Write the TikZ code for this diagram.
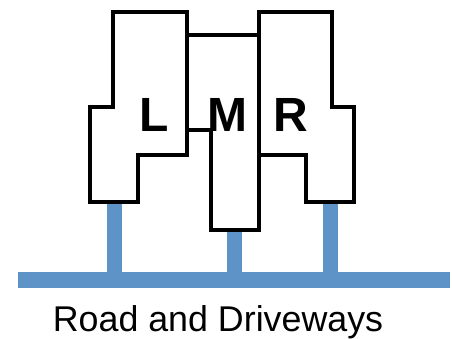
\documentclass[tikz,border=0pt]{standalone}
\usepackage{fontspec}
\setmainfont{Liberation Sans}
\definecolor{roadblue}{RGB}{94,147,200}
\begin{document}
\begin{tikzpicture}[x=1pt,y=-1pt,
  lot/.style={draw=black,line width=4pt,fill=white,line join=miter},
  drive/.style={draw=roadblue,line width=15pt},
  roadline/.style={draw=roadblue,line width=16pt},
  letter/.style={font=\fontsize{48}{48}\selectfont\bfseries,inner sep=0pt}]
\useasboundingbox (0,0) rectangle (452,339);
% coordinates
\coordinate (Lb) at (114.5,202);
\coordinate (Mb) at (234.5,230);
\coordinate (Rb) at (330.5,202);
\coordinate (Lr) at (114.5,280);
\coordinate (Mr) at (234.5,280);
\coordinate (Rr) at (330.5,280);
\coordinate (roadW) at (18,280);
\coordinate (roadE) at (450,280);
% driveways and road
\draw[drive] (Lb) -- (Lr);
\draw[drive] (Mb) -- (Mr);
\draw[drive] (Rb) -- (Rr);
\draw[roadline] (roadW) -- (roadE);
% lots
\draw[lot] (113,12) -- (187,12) -- (187,155) -- (138,155) -- (138,202) -- (90,202) -- (90,107) -- (113,107) -- cycle;
\draw[lot] (187,35) -- (259,35) -- (259,230) -- (211,230) -- (211,130) -- (187,130) -- cycle;
\draw[lot] (259,12) -- (332,12) -- (332,107) -- (354,107) -- (354,202) -- (306,202) -- (306,155) -- (259,155) -- cycle;
% labels
\node[letter] (L) at (154,114.5) {L};
\node[letter] (M) at (227.5,114.5) {M};
\node[letter] (R) at (291,114.5) {R};
\node[font=\fontsize{35.8}{35.8}\selectfont,inner sep=0pt,anchor=base] (road) at (218,331) {Road and Driveways};
\end{tikzpicture}
\end{document}
